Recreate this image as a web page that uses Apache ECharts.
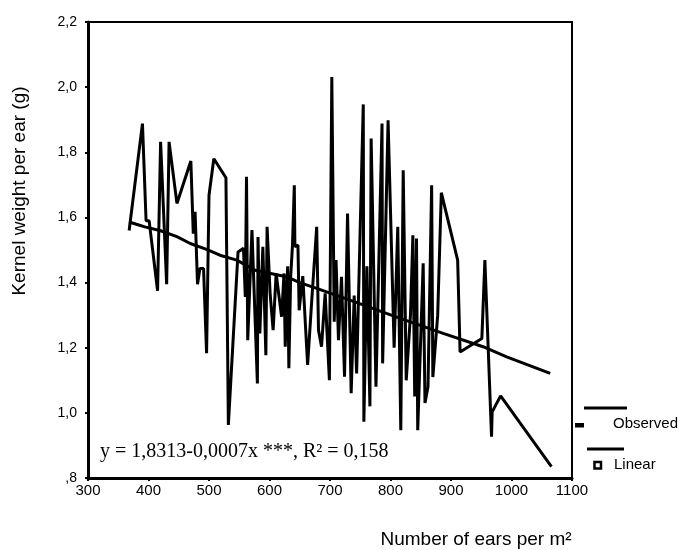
<!DOCTYPE html>
<html>
<head>
<meta charset="utf-8">
<script src="https://cdn.jsdelivr.net/npm/echarts@6/dist/echarts.min.js"></script>
<style>html,body{margin:0;padding:0;background:#fff}#c{width:679px;height:550px}</style>
</head>
<body>
<div id="c"></div>
<script>
// Observed data (number of ears per m2, kernel weight per ear)
var obsX = [368,390,396,401,415,420,430,434,447,470,474,477,481,485,491,496,500,508,528,532,548,557,560,562,564,571,580,581,584,589,594,596,601,606,611,620,624,626,630,632,635,638,641,642,647,649,655,663,670,678,681,686,692,695,699,703,707,710,714,719,724,729,735,740,744,755,756,761,766,768,776,786,787,796,806,812,817,821,826,833,837,840,843,845,854,857,862,868,870,878,884,911,915,951,956,967,968,982,1066];
var obsY = [1.56,1.888,1.59,1.59,1.375,1.832,1.395,1.832,1.643,1.773,1.55,1.617,1.395,1.443,1.443,1.183,1.668,1.78,1.722,0.963,1.494,1.505,1.356,1.725,1.223,1.561,1.09,1.54,1.244,1.51,1.177,1.571,1.367,1.254,1.428,1.295,1.428,1.203,1.45,1.137,1.418,1.515,1.699,1.51,1.515,1.315,1.42,1.147,1.35,1.571,1.254,1.203,1.367,1.25,1.1,2.031,1.28,1.469,1.223,1.418,1.111,1.612,1.06,1.36,1.121,1.947,0.973,1.45,1.02,1.842,1.08,1.888,1.152,1.898,1.2,1.571,0.947,1.745,1.1,1.3,1.545,1.05,1.535,0.947,1.459,1.03,1.08,1.699,1.11,1.3,1.676,1.469,1.187,1.228,1.469,0.927,1.003,1.052,0.835];
// Linear fit as drawn
var linX = [368,380,394,420,447,469,496,518,546,576,628,650,678,733,816,887,953,992,1064];
var linY = [1.586,1.579,1.571,1.559,1.541,1.52,1.502,1.484,1.469,1.438,1.418,1.40,1.382,1.346,1.29,1.244,1.203,1.172,1.121];
var xTicks = [300,400,500,600,700,800,900,1000,1100];
var yTicks = ['2,2','2,0','1,8','1,6','1,4','1,2','1,0',',8'];
var eqText = 'y = 1,8313-0,0007x ***, R\u00B2 = 0,158';

function pairs(xs, ys){ return xs.map(function(x,i){ return [x, ys[i]]; }); }
function yFmt(v){ var s = v.toFixed(1).replace('.', ','); return s.charAt(0)==='0' ? s.substring(1) : s; }
function xFmt(v){ return String(Math.round(v)); }

var chart = echarts.init(document.getElementById('c'), null, {renderer:'canvas'});
chart.setOption({
  animation: false,
  backgroundColor: '#fff',
  grid: {left: 88, right: 107, top: 22, bottom: 72, show: true, borderColor: '#000', borderWidth: 2},
  xAxis: {
    type: 'value', min: xTicks[0], max: xTicks[xTicks.length-1], interval: 100,
    axisLine: {show: true, lineStyle: {color: '#000', width: 3}},
    axisTick: {show: true, length: 3, lineStyle: {color: '#000', width: 2}},
    splitLine: {show: false},
    axisLabel: {color: '#000', fontFamily: 'Liberation Sans, Arial, sans-serif', fontSize: 15, margin: 5, formatter: xFmt}
  },
  yAxis: {
    type: 'value', min: 0.8, max: 2.2, interval: 0.2,
    axisLine: {show: true, lineStyle: {color: '#000', width: 3}},
    axisTick: {show: true, length: 3, lineStyle: {color: '#000', width: 2}},
    splitLine: {show: false},
    axisLabel: {color: '#000', fontFamily: 'Liberation Sans, Arial, sans-serif', fontSize: 14, margin: 11, formatter: yFmt}
  },
  series: [
    {type: 'line', data: pairs(obsX, obsY), symbol: 'none', lineStyle: {color: '#000', width: 3, join: 'bevel'}, z: 3},
    {type: 'line', data: pairs(linX, linY), symbol: 'none', lineStyle: {color: '#000', width: 3}, z: 4}
  ],
  graphic: [
    {type: 'text', x: 20, y: 191, rotation: Math.PI/2,
     style: {text: 'Kernel weight per ear (g)', fill: '#000', font: '19px "Liberation Sans", Arial, sans-serif', textAlign: 'center', textVerticalAlign: 'middle'}},
    {type: 'text', x: 476, y: 540,
     style: {text: 'Number of ears per m\u00B2', fill: '#000', font: '19px "Liberation Sans", Arial, sans-serif', textAlign: 'center', textVerticalAlign: 'middle'}},
    {type: 'text', x: 100, y: 452, z: 10,
     style: {text: eqText, fill: '#000', font: '20px "Liberation Serif", "Times New Roman", serif', textAlign: 'left', textVerticalAlign: 'middle'}},
    {type: 'line', shape: {x1: 584, y1: 408, x2: 627, y2: 408}, style: {stroke: '#000', lineWidth: 3}},
    {type: 'rect', shape: {x: 575, y: 423, width: 9, height: 4.5}, style: {fill: '#000'}},
    {type: 'text', x: 613, y: 424, style: {text: 'Observed', fill: '#000', font: '15px "Liberation Sans", Arial, sans-serif', textAlign: 'left', textVerticalAlign: 'middle'}},
    {type: 'line', shape: {x1: 587, y1: 449, x2: 624, y2: 449}, style: {stroke: '#000', lineWidth: 3}},
    {type: 'rect', shape: {x: 594.5, y: 462, width: 6.5, height: 6.5}, style: {fill: '#fff', stroke: '#000', lineWidth: 2.5}},
    {type: 'text', x: 614, y: 465, style: {text: 'Linear', fill: '#000', font: '15px "Liberation Sans", Arial, sans-serif', textAlign: 'left', textVerticalAlign: 'middle'}}
  ]
});
</script>
</body>
</html>
